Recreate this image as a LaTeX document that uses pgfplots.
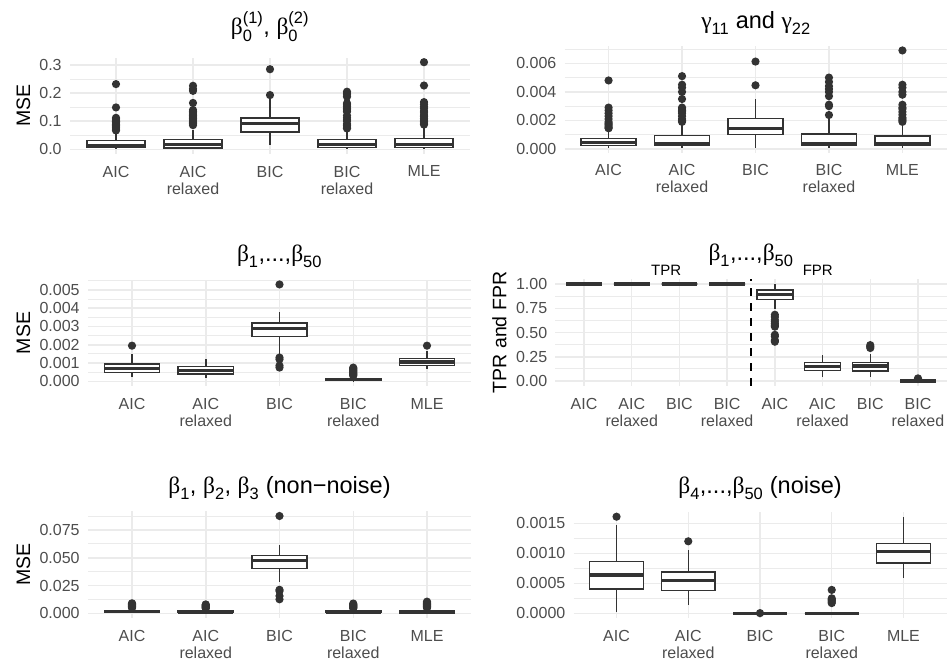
\documentclass[border=0pt]{standalone}
\usepackage{pgfplots}
\pgfplotsset{compat=1.18}
\usepgfplotslibrary{statistics}
\usepackage{amsmath}
\usepackage{fontspec}
\setmainfont{Liberation Sans}
\newfontfamily\greekfont{Liberation Serif}

\definecolor{boxgray}{HTML}{333333}
\definecolor{tickgray}{HTML}{4D4D4D}
\definecolor{gridgray}{HTML}{EBEBEB}

\newcommand{\tickfont}{\fontsize{16}{17}\selectfont}
\newcommand{\titlefont}{\fontsize{23.5}{27}\selectfont}
\newcommand{\labfont}{\fontsize{19.5}{22}\selectfont}
\newcommand{\gk}[1]{\text{\greekfont #1}}

\pgfplotsset{
  gg/.style={
    scale only axis,
    anchor=south west,
    clip=false,
    axis line style={draw=none},
    major tick length=0pt, minor tick length=0pt,
    tick style={draw=none},
    ymajorgrids, yminorgrids, xmajorgrids,
    major grid style={gridgray, line width=1.5pt},
    minor grid style={gridgray, line width=0.8pt},
    xticklabel style={font=\tickfont, text=tickgray, align=center, inner sep=0pt, yshift=-12pt},
    yticklabel style={font=\tickfont, text=tickgray, inner sep=0pt, xshift=-8pt},
    boxplot/draw direction=y,
    boxplot/box extend=0.75,
    boxplot/whisker extend=0,
    boxplot/every box/.style={fill=white},
    boxplot/every median/.style={line width=3.2pt},
  },
  five/.style={xmin=0.4, xmax=5.6, xtick={1,2,3,4,5},
    xticklabels={AIC,{AIC\\relaxed},BIC,{BIC\\relaxed},MLE}},
  bx/.style={boxplot prepared={#1}, draw=boxgray, line width=1.5pt, solid,
    mark=*, mark size=3.3pt, mark options={fill=boxgray, draw=none}},
}

\begin{document}
\begin{tikzpicture}[x=1pt,y=1pt]
\useasboundingbox (0,0) rectangle (947,662);

% ---------- beta_0 intercepts (MSE) ----------
\begin{axis}[gg, five, at={(69.8pt,508.34pt)}, width=400.4pt, height=95.68pt,
  ymin=-0.0155, ymax=0.325,
  ytick={0,0.1,0.2,0.3}, yticklabels={0.0,0.1,0.2,0.3},
  minor ytick={0.05,0.15,0.25}]
\addplot[bx={draw position=1, lower whisker=0.002, lower quartile=0.006, median=0.013, upper quartile=0.031, upper whisker=0.063}]
  table[row sep=\\, y index=0] {v\\ 0.067\\ 0.072\\ 0.076\\ 0.080\\ 0.085\\ 0.089\\ 0.094\\ 0.099\\ 0.104\\ 0.108\\ 0.112\\ 0.149\\ 0.232\\};
\addplot[bx={draw position=2, lower whisker=0.002, lower quartile=0.005, median=0.016, upper quartile=0.034, upper whisker=0.070}]
  table[row sep=\\, y index=0] {v\\ 0.086\\ 0.091\\ 0.096\\ 0.100\\ 0.105\\ 0.110\\ 0.115\\ 0.120\\ 0.125\\ 0.130\\ 0.135\\ 0.140\\ 0.165\\ 0.208\\ 0.215\\ 0.226\\};
\addplot[bx={draw position=3, lower whisker=0.015, lower quartile=0.062, median=0.091, upper quartile=0.111, upper whisker=0.178}]
  table[row sep=\\, y index=0] {v\\ 0.193\\ 0.285\\};
\addplot[bx={draw position=4, lower whisker=0.002, lower quartile=0.006, median=0.017, upper quartile=0.034, upper whisker=0.069}]
  table[row sep=\\, y index=0] {v\\ 0.074\\ 0.079\\ 0.084\\ 0.090\\ 0.100\\ 0.105\\ 0.112\\ 0.120\\ 0.134\\ 0.140\\ 0.146\\ 0.152\\ 0.158\\ 0.164\\ 0.187\\ 0.194\\ 0.200\\ 0.205\\};
\addplot[bx={draw position=5, lower whisker=0.002, lower quartile=0.006, median=0.018, upper quartile=0.039, upper whisker=0.083}]
  table[row sep=\\, y index=0] {v\\ 0.088\\ 0.093\\ 0.098\\ 0.104\\ 0.110\\ 0.116\\ 0.122\\ 0.130\\ 0.136\\ 0.145\\ 0.152\\ 0.160\\ 0.168\\ 0.227\\ 0.310\\};
\end{axis}

% ---------- gamma_11 and gamma_22 (values in units of 1e-3) ----------
\begin{axis}[gg, five, at={(564.5pt,509.43pt)}, width=382pt, height=106.97pt,
  ymin=-0.25, ymax=7.24,
  ytick={0,2,4,6}, yticklabels={0.000,0.002,0.004,0.006},
  minor ytick={1,3,5,7}]
\addplot[bx={draw position=1, lower whisker=0.05, lower quartile=0.23, median=0.45, upper quartile=0.75, upper whisker=1.33}]
  table[row sep=\\, y index=0] {v\\ 1.45\\ 1.5\\ 1.6\\ 1.7\\ 1.8\\ 1.9\\ 2.1\\ 2.3\\ 2.5\\ 2.7\\ 2.9\\ 4.8\\};
\addplot[bx={draw position=2, lower whisker=0.05, lower quartile=0.23, median=0.4, upper quartile=0.93, upper whisker=1.8}]
  table[row sep=\\, y index=0] {v\\ 1.9\\ 2.0\\ 2.1\\ 2.3\\ 2.5\\ 2.6\\ 2.7\\ 2.8\\ 2.9\\ 3.5\\ 4.0\\ 4.3\\ 4.5\\ 5.1\\};
\addplot[bx={draw position=3, lower whisker=0.1, lower quartile=1.00, median=1.45, upper quartile=2.15, upper whisker=3.5}]
  table[row sep=\\, y index=0] {v\\ 4.46\\ 6.12\\};
\addplot[bx={draw position=4, lower whisker=0.05, lower quartile=0.23, median=0.4, upper quartile=1.05, upper whisker=2.2}]
  table[row sep=\\, y index=0] {v\\ 2.38\\ 3.0\\ 3.1\\ 3.7\\ 4.0\\ 4.2\\ 4.4\\ 4.7\\ 5.0\\};
\addplot[bx={draw position=5, lower whisker=0.05, lower quartile=0.23, median=0.4, upper quartile=0.9, upper whisker=1.75}]
  table[row sep=\\, y index=0] {v\\ 1.9\\ 2.0\\ 2.1\\ 2.2\\ 2.4\\ 2.6\\ 2.8\\ 2.9\\ 3.1\\ 3.8\\ 4.0\\ 4.3\\ 4.5\\ 6.9\\};
\end{axis}

% ---------- beta_1..beta_50 MSE (units of 1e-3) ----------
\begin{axis}[gg, five, at={(87.75pt,275.95pt)}, width=383.5pt, height=106.35pt,
  ymin=-0.26, ymax=5.56,
  ytick={0,1,2,3,4,5}, yticklabels={0.000,0.001,0.002,0.003,0.004,0.005},
  minor ytick={0.5,1.5,2.5,3.5,4.5,5.5}]
\addplot[bx={draw position=1, lower whisker=0.26, lower quartile=0.47, median=0.71, upper quartile=0.95, upper whisker=1.5}]
  table[row sep=\\, y index=0] {v\\ 1.95\\};
\addplot[bx={draw position=2, lower whisker=0.16, lower quartile=0.4, median=0.6, upper quartile=0.8, upper whisker=1.2}]
  coordinates {};
\addplot[bx={draw position=3, lower whisker=1.44, lower quartile=2.45, median=2.9, upper quartile=3.18, upper whisker=3.8}]
  table[row sep=\\, y index=0] {v\\ 0.75\\ 0.86\\ 1.2\\ 1.3\\ 5.3\\};
\addplot[bx={draw position=4, lower whisker=0.01, lower quartile=0.04, median=0.08, upper quartile=0.13, upper whisker=0.26}]
  table[row sep=\\, y index=0] {v\\ 0.3\\ 0.35\\ 0.4\\ 0.45\\ 0.5\\ 0.55\\ 0.6\\ 0.65\\ 0.7\\ 0.75\\};
\addplot[bx={draw position=5, lower whisker=0.68, lower quartile=0.86, median=1.06, upper quartile=1.24, upper whisker=1.66}]
  table[row sep=\\, y index=0] {v\\ 1.95\\};
\end{axis}

% ---------- TPR and FPR ----------
\begin{axis}[gg, at={(555.4pt,276.15pt)}, width=391.2pt, height=106.7pt,
  xmin=0.4, xmax=8.6, xtick={1,...,8},
  xticklabels={AIC,{AIC\\relaxed},BIC,{BIC\\relaxed},AIC,{AIC\\relaxed},BIC,{BIC\\relaxed}},
  ymin=-0.05, ymax=1.05,
  ytick={0,0.25,0.5,0.75,1}, yticklabels={0.00,0.25,0.50,0.75,1.00},
  minor ytick={0.125,0.375,0.625,0.875}]
\addplot[bx={draw position=1, lower whisker=1, lower quartile=1, median=1, upper quartile=1, upper whisker=1}] coordinates {};
\addplot[bx={draw position=2, lower whisker=1, lower quartile=1, median=1, upper quartile=1, upper whisker=1}] coordinates {};
\addplot[bx={draw position=3, lower whisker=1, lower quartile=1, median=1, upper quartile=1, upper whisker=1}] coordinates {};
\addplot[bx={draw position=4, lower whisker=1, lower quartile=1, median=1, upper quartile=1, upper whisker=1}] coordinates {};
\addplot[bx={draw position=5, lower whisker=0.74, lower quartile=0.842, median=0.893, upper quartile=0.938, upper whisker=1.0}]
  table[row sep=\\, y index=0] {v\\ 0.405\\ 0.42\\ 0.46\\ 0.476\\ 0.56\\ 0.575\\ 0.59\\ 0.61\\ 0.63\\ 0.66\\ 0.683\\};
\addplot[bx={draw position=6, lower whisker=0.045, lower quartile=0.107, median=0.148, upper quartile=0.192, upper whisker=0.268}] coordinates {};
\addplot[bx={draw position=7, lower whisker=0.045, lower quartile=0.105, median=0.155, upper quartile=0.192, upper whisker=0.28}]
  table[row sep=\\, y index=0] {v\\ 0.34\\ 0.355\\ 0.37\\};
\addplot[bx={draw position=8, lower whisker=0, lower quartile=0, median=0, upper quartile=0, upper whisker=0}]
  table[row sep=\\, y index=0] {v\\ 0.02\\ 0.027\\};
\addplot[black, line width=2pt, dash pattern=on 8pt off 7pt] coordinates {(4.5,-0.05) (4.5,1.05)};
\node[font=\fontsize{15}{17}\selectfont, anchor=base] at (axis cs:2.72,1.085) {TPR};
\node[font=\fontsize{15}{17}\selectfont, anchor=base] at (axis cs:5.9,1.085) {FPR};
\end{axis}

% ---------- beta_1, beta_2, beta_3 (units of 1e-2) ----------
\begin{axis}[gg, five, at={(87.75pt,43.81pt)}, width=383.5pt, height=107.07pt,
  ymin=-0.44, ymax=9.2,
  ytick={0,2.5,5,7.5}, yticklabels={0.000,0.025,0.050,0.075},
  minor ytick={1.25,3.75,6.25,8.75}]
\addplot[bx={draw position=1, lower whisker=0.01, lower quartile=0.08, median=0.15, upper quartile=0.25, upper whisker=0.45}]
  table[row sep=\\, y index=0] {v\\ 0.48\\ 0.55\\ 0.6\\ 0.65\\ 0.7\\ 0.75\\ 0.8\\ 0.85\\ 0.9\\};
\addplot[bx={draw position=2, lower whisker=0.01, lower quartile=0.06, median=0.12, upper quartile=0.2, upper whisker=0.4}]
  table[row sep=\\, y index=0] {v\\ 0.45\\ 0.5\\ 0.55\\ 0.6\\ 0.65\\ 0.7\\ 0.75\\ 0.8\\};
\addplot[bx={draw position=3, lower whisker=2.8, lower quartile=4.02, median=4.72, upper quartile=5.22, upper whisker=6.18}]
  table[row sep=\\, y index=0] {v\\ 1.26\\ 1.56\\ 2.00\\ 2.12\\ 8.76\\};
\addplot[bx={draw position=4, lower whisker=0.01, lower quartile=0.06, median=0.12, upper quartile=0.2, upper whisker=0.4}]
  table[row sep=\\, y index=0] {v\\ 0.45\\ 0.5\\ 0.55\\ 0.6\\ 0.65\\ 0.7\\ 0.75\\ 0.8\\ 0.88\\};
\addplot[bx={draw position=5, lower whisker=0.01, lower quartile=0.06, median=0.12, upper quartile=0.21, upper whisker=0.42}]
  table[row sep=\\, y index=0] {v\\ 0.48\\ 0.55\\ 0.6\\ 0.65\\ 0.7\\ 0.75\\ 0.8\\ 0.85\\ 0.9\\ 0.98\\ 1.05\\};
\end{axis}

% ---------- beta_4..beta_50 (units of 1e-3) ----------
\begin{axis}[gg, five, at={(573.5pt,43.9pt)}, width=373pt, height=106.2pt,
  ymin=-0.08, ymax=1.69,
  ytick={0,0.5,1,1.5}, yticklabels={0.0000,0.0005,0.0010,0.0015},
  minor ytick={0.25,0.75,1.25}]
\addplot[bx={draw position=1, lower whisker=0.02, lower quartile=0.406, median=0.639, upper quartile=0.861, upper whisker=1.47}]
  table[row sep=\\, y index=0] {v\\ 1.61\\};
\addplot[bx={draw position=2, lower whisker=0.139, lower quartile=0.378, median=0.55, upper quartile=0.689, upper whisker=1.06}]
  table[row sep=\\, y index=0] {v\\ 1.2\\};
\addplot[bx={draw position=3, lower whisker=0, lower quartile=0, median=0, upper quartile=0, upper whisker=0}]
  table[row sep=\\, y index=0] {v\\ 0.003\\};
\addplot[bx={draw position=4, lower whisker=0, lower quartile=0, median=0, upper quartile=0, upper whisker=0.01}]
  table[row sep=\\, y index=0] {v\\ 0.17\\ 0.19\\ 0.21\\ 0.23\\ 0.25\\ 0.39\\};
\addplot[bx={draw position=5, lower whisker=0.583, lower quartile=0.839, median=1.03, upper quartile=1.16, upper whisker=1.61}]
  coordinates {};
\end{axis}

% ---------- panel titles ----------
\node[font=\titlefont, anchor=base] at (270,627) {$\gk{β}_{\text{0}}^{\text{(1)}}$, $\gk{β}_{\text{0}}^{\text{(2)}}$};
\node[font=\titlefont, anchor=base] at (756,633.7) {$\gk{γ}_{\text{11}}$ and $\gk{γ}_{\text{22}}$};
\node[font=\titlefont, anchor=base] at (279.5,400.7) {$\gk{β}_{\text{1}}$,...,$\gk{β}_{\text{50}}$};
\node[font=\titlefont, anchor=base] at (751,401) {$\gk{β}_{\text{1}}$,...,$\gk{β}_{\text{50}}$};
\node[font=\titlefont, anchor=base] at (279.5,168.7) {$\gk{β}_{\text{1}}$, $\gk{β}_{\text{2}}$, $\gk{β}_{\text{3}}$ (non−noise)};
\node[font=\titlefont, anchor=base] at (760,168.7) {$\gk{β}_{\text{4}}$,...,$\gk{β}_{\text{50}}$ (noise)};

% ---------- y axis titles ----------
\node[font=\labfont, rotate=90] at (23.5,556.2) {MSE};
\node[font=\labfont, rotate=90] at (23.5,329.1) {MSE};
\node[font=\labfont, rotate=90] at (23.5,97.3) {MSE};
\node[font=\labfont, rotate=90] at (499.5,329.5) {TPR and FPR};
\end{tikzpicture}
\end{document}
